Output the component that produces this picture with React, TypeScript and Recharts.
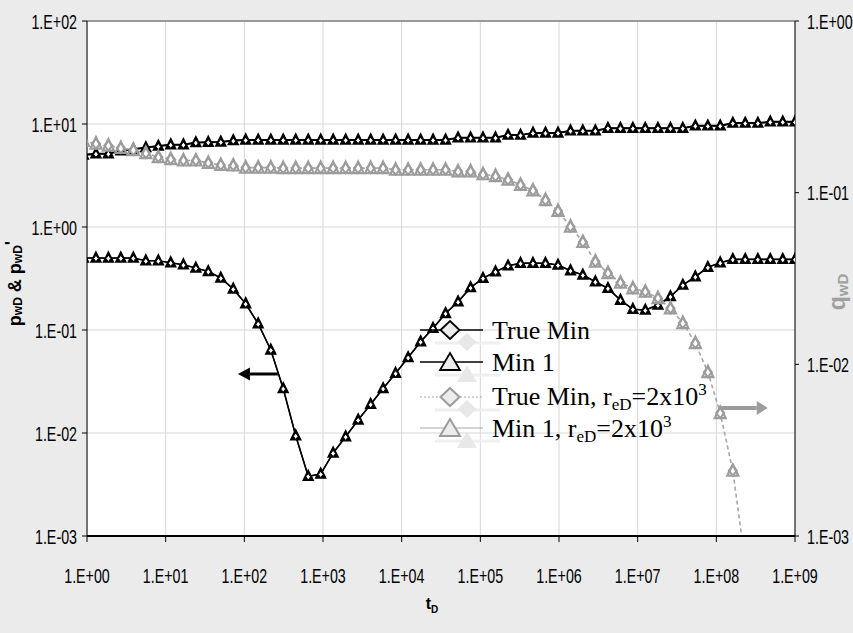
import React from 'react';
import { LineChart, Line, XAxis, YAxis, CartesianGrid, Legend, ReferenceLine } from 'recharts';

// dimensionless time (x axis, log)
const tD = [
  0.9, 1.3, 1.87, 2.69, 3.88, 5.6, 8.07, 11.6, 16.8, 24.2, 34.8, 50.2, 72.3, 104, 150, 217, 312, 450, 649,
  935, 1346, 1941, 2799, 4036, 5808, 8375, 12078, 17418, 25061, 36141, 52119, 75162, 108143, 155955,
  224905, 324340, 466659, 672977, 970510, 1.4e6, 2.01e6, 2.9e6, 4.19e6, 6.04e6, 8.69e6, 1.25e7, 1.81e7,
  2.61e7, 3.75e7, 5.41e7, 7.8e7, 1.12e8, 1.62e8, 2.33e8, 3.37e8, 4.85e8, 6.99e8, 1e9,
];

// pwD (left axis) - True Min and Min 1 lie on top of each other
const pwdTrueMin = [
  5.0, 5.15, 5.15, 5.5, 5.7, 5.9, 6.1, 6.3, 6.3, 6.6, 6.65, 6.7, 6.9,
  7.0, 7.0, 7.0, 7.0, 7.0, 7.0, 7.0, 7.0, 7.0, 7.0, 7.0, 7.0, 7.0, 7.0, 7.0, 7.0, 7.0,
  7.35, 7.35, 7.35, 7.35, 7.8, 7.8, 8.2, 8.2, 8.2, 8.6, 8.6, 8.6,
  9.1, 9.1, 9.1, 9.1, 9.1, 9.1, 9.1, 9.6, 9.6, 9.6, 10.2, 10.2, 10.2, 10.5, 10.5, 10.5,
];
const pwdMin1 = pwdTrueMin;

// pwD' (left axis)
const dpwdTrueMin = [
  0.5, 0.5, 0.5, 0.5, 0.5, 0.47, 0.47, 0.45, 0.43, 0.4, 0.37, 0.32, 0.25, 0.18, 0.115, 0.064, 0.027,
  0.0094, 0.0038, 0.004, 0.0064, 0.0092, 0.0134, 0.019, 0.027, 0.038, 0.054, 0.077, 0.104, 0.145,
  0.188, 0.258, 0.318, 0.368, 0.42, 0.445, 0.445, 0.445, 0.427, 0.377, 0.342, 0.294, 0.254, 0.195,
  0.159, 0.156, 0.175, 0.211, 0.273, 0.329, 0.406, 0.45, 0.485, 0.485, 0.485, 0.485, 0.485, 0.485,
];
const dpwdMin1 = dpwdTrueMin;

// qwD for reD = 2x10^3 (right axis)
const qwdTrueMin = [
  0.2, 0.193, 0.188, 0.182, 0.177, 0.17, 0.161, 0.157, 0.154, 0.154, 0.149, 0.145, 0.144, 0.14, 0.14, 0.14,
  0.139, 0.139, 0.139, 0.139, 0.139, 0.139, 0.139, 0.139, 0.139,
  0.136, 0.136, 0.136, 0.136, 0.136,
  0.133, 0.133, 0.128, 0.125, 0.119, 0.111, 0.103, 0.0906, 0.0782, 0.0634, 0.0516, 0.0397, 0.034,
  0.0299, 0.0277, 0.0265, 0.0243, 0.0212, 0.0174, 0.0133, 0.009, 0.0052, 0.0024, 0.0007,
  null, null, null, null,
];
const qwdMin1 = qwdTrueMin;

const xTicks = [1, 10, 100, 1e3, 1e4, 1e5, 1e6, 1e7, 1e8, 1e9];
const leftTicks = [1e-3, 1e-2, 1e-1, 1, 10, 100];
const rightTicks = [1e-3, 1e-2, 1e-1, 1];

// annotation arrows
const leftArrow = { y: 0.0374, from: 267, to: 83 };
const rightArrow = { y: 0.00557, from: 1.1e8, to: 4.5e8 };

const data = tD.map((t, i) => ({
  t,
  pTrue: pwdTrueMin[i],
  pMin1: pwdMin1[i],
  dTrue: dpwdTrueMin[i],
  dMin1: dpwdMin1[i],
  qTrue: qwdTrueMin[i],
  qMin1: qwdMin1[i],
}));

const GRAY = '#9c9c9c';
const SANS = 'Liberation Sans, Arial, sans-serif';
const SERIF = 'Liberation Serif, Times New Roman, serif';

const fmt = (v: number) => {
  const e = Math.round(Math.log10(v));
  const s = e < 0 ? '-' : '+';
  return `1.E${s}${String(Math.abs(e)).padStart(2, '0')}`;
};

const XTick = ({ x, y, payload }: any) => (
  <text transform={`translate(${x},${y + 39}) scale(0.68,1)`} textAnchor="middle" fontFamily={SANS} fontSize={21} fill="#000">
    {fmt(payload.value)}
  </text>
);
const LeftTick = ({ x, y, payload }: any) => (
  <text transform={`translate(${x - 3},${y + 7.5}) scale(0.68,1)`} textAnchor="end" fontFamily={SANS} fontSize={21} fill="#000">
    {fmt(payload.value)}
  </text>
);
const RightTick = ({ x, y, payload }: any) => (
  <text transform={`translate(${x + 6},${y + 7.5}) scale(0.68,1)`} textAnchor="start" fontFamily={SANS} fontSize={21} fill="#000">
    {fmt(payload.value)}
  </text>
);

const diamond = (cx: number, cy: number, w: number, h: number) =>
  `M${cx},${cy - h}L${cx + w},${cy}L${cx},${cy + h}L${cx - w},${cy}Z`;
const triangle = (cx: number, cy: number, w: number, up: number, down: number) =>
  `M${cx},${cy - up}L${cx + w},${cy + down}L${cx - w},${cy + down}Z`;

const BlackDiamond = (p: any) =>
  p.cx == null || p.cy == null ? <g key={p.index} /> : (
    <path key={p.index} d={diamond(p.cx, p.cy + 0.5, 2.4, 3.2)} fill="#fff" stroke="#000" strokeWidth={1} />
  );
const BlackTriangle = (p: any) =>
  p.cx == null || p.cy == null ? <g key={p.index} /> : (
    <path key={p.index} d={triangle(p.cx, p.cy, 5, 6, 4)} fill="#000" stroke="#000" strokeWidth={1.5} />
  );
const GrayDiamond = (p: any) =>
  p.cx == null || p.cy == null ? <g key={p.index} /> : (
    <path key={p.index} d={diamond(p.cx, p.cy, 4, 5)} fill="#fff" stroke={GRAY} strokeWidth={2} />
  );
const GrayTriangle = (p: any) =>
  p.cx == null || p.cy == null ? <g key={p.index} /> : (
    <path key={p.index} d={triangle(p.cx, p.cy, 5.5, 6.5, 5)} fill="none" stroke={GRAY} strokeWidth={2.2} />
  );

const arrowShape = (color: string, width: number, headLen: number, headHalf: number) => (props: any) => {
  const { x1, y1, x2, y2 } = props;
  const dir = Math.sign(x2 - x1);
  const bx = x2 - dir * headLen;
  return (
    <g>
      <line x1={x1} y1={y1} x2={bx} y2={y2} stroke={color} strokeWidth={width} />
      <polygon points={`${x2},${y2} ${bx},${y2 - headHalf} ${bx},${y2 + headHalf}`} fill={color} />
    </g>
  );
};

const legendRows = [
  { label: 'True Min', gray: false, shape: 'diamond', cy: 20, base: 29 },
  { label: 'Min 1', gray: false, shape: 'triangle', cy: 52, base: 61 },
  { label: 'True Min, ', gray: true, shape: 'diamond', cy: 87, base: 95 },
  { label: 'Min 1, ', gray: true, shape: 'triangle', cy: 118, base: 127 },
];

const LegendBox = () => (
  <svg width={340} height={150} style={{ display: 'block' }}>
    {legendRows.map((r, i) => (
      <g key={`ghost-${i}`}>
        <line x1={25} x2={90} y1={r.cy + 13} y2={r.cy + 13} stroke="#efefef" strokeWidth={3} />
        <path
          d={r.shape === 'diamond' ? diamond(57, r.cy + 12, 9.5, 9) : triangle(57, r.cy + 13, 10, 10, 7)}
          fill="#e8e8e8"
        />
      </g>
    ))}
    {legendRows.map((r, i) => {
      const col = r.gray ? GRAY : '#000';
      return (
        <g key={i}>
          <line
            x1={10}
            x2={73}
            y1={r.cy}
            y2={r.cy}
            stroke={r.gray ? '#a8a8a8' : '#000'}
            strokeWidth={r.gray ? 1.2 : 1.5}
            strokeDasharray={r.gray && r.shape === 'diamond' ? '2 2' : undefined}
          />
          <path
            d={r.shape === 'diamond' ? diamond(40, r.cy, 9.5, 9) : triangle(40, r.cy + 1, 10, 10, 7)}
            fill="#ececec"
            stroke={col}
            strokeWidth={r.gray ? 2 : 1.8}
          />
          <text x={82} y={r.base} fontFamily={SERIF} fontSize={26} fill="#000">
            {r.label}
            {r.gray && (
              <>
                r<tspan fontSize={17} dy={5}>eD</tspan>
                <tspan dy={-5}>=2x10</tspan>
                <tspan fontSize={17} dy={-10}>3</tspan>
              </>
            )}
          </text>
        </g>
      );
    })}
  </svg>
);

const LeftLabel = ({ viewBox }: any) => {
  const cx = viewBox.x + 15;
  const cy = viewBox.y + viewBox.height / 2 + 5;
  return (
    <text transform={`translate(${cx},${cy}) rotate(-90)`} textAnchor="middle" dominantBaseline="central"
      fontFamily={SANS} fontWeight="bold" fontSize={18} fill="#000">
      p<tspan fontSize={12} dy={3}>wD</tspan>
      <tspan dy={-3}>{' & p'}</tspan>
      <tspan fontSize={12} dy={3}>wD</tspan>
      <tspan dy={-6}>'</tspan>
    </text>
  );
};

const RightLabel = ({ viewBox }: any) => {
  const cx = viewBox.x + 42;
  const cy = viewBox.y + 271;
  return (
    <text transform={`translate(${cx},${cy}) rotate(-90)`} textAnchor="middle" dominantBaseline="central"
      fontFamily={SANS} fontWeight="bold" fontSize={23} fill="#a0a0a0">
      q<tspan fontSize={15} dy={5}>wD</tspan>
    </text>
  );
};

const XLabel = ({ viewBox }: any) => (
  <text x={viewBox.x + 345} y={viewBox.y + 73} textAnchor="middle" fontFamily={SANS} fontWeight="bold" fontSize={16} fill="#000">
    t<tspan fontSize={10} dy={4}>D</tspan>
  </text>
);

export default function App() {
  return (
    <div style={{ position: 'absolute', left: 0, top: 0, width: 853, height: 633, background: '#ebebeb' }}>
      <LineChart width={853} height={633} data={data} margin={{ top: 21, right: 0, bottom: 0, left: 0 }}>
        <CartesianGrid yAxisId="p" stroke="#d6d6d6" fill="#fff" fillOpacity={1} />
        <XAxis
          dataKey="t"
          type="number"
          scale="log"
          domain={[1, 1e9]}
          ticks={xTicks}
          interval={0}
          allowDataOverflow
          height={97}
          tick={<XTick />}
          tickSize={6}
          axisLine={{ stroke: '#000', strokeWidth: 2 }}
          tickLine={{ stroke: '#000' }}
          label={<XLabel />}
        />
        <YAxis
          yAxisId="p"
          type="number"
          scale="log"
          domain={[1e-3, 100]}
          ticks={leftTicks}
          interval={0}
          allowDataOverflow
          width={87}
          tick={<LeftTick />}
          tickSize={5}
          axisLine={{ stroke: '#000' }}
          tickLine={{ stroke: '#000' }}
          label={<LeftLabel />}
        />
        <YAxis
          yAxisId="q"
          orientation="right"
          type="number"
          scale="log"
          domain={[1e-3, 1]}
          ticks={rightTicks}
          interval={0}
          allowDataOverflow
          width={58}
          tick={<RightTick />}
          tickSize={4}
          axisLine={{ stroke: '#000' }}
          tickLine={{ stroke: '#000' }}
          label={<RightLabel />}
        />
        <ReferenceLine yAxisId="p" y={100} stroke="#808080" strokeWidth={1.5} ifOverflow="visible" />

        <Line yAxisId="p" dataKey="pMin1" stroke="#000" strokeWidth={1.2} dot={BlackTriangle} isAnimationActive={false} legendType="none" />
        <Line yAxisId="p" dataKey="dMin1" stroke="#000" strokeWidth={1.2} dot={BlackTriangle} isAnimationActive={false} legendType="none" />
        <Line yAxisId="p" dataKey="pTrue" stroke="#000" strokeWidth={2} dot={BlackDiamond} isAnimationActive={false} legendType="none" />
        <Line yAxisId="p" dataKey="dTrue" stroke="#000" strokeWidth={1.6} dot={BlackDiamond} isAnimationActive={false} legendType="none" />
        <Line yAxisId="q" dataKey="qTrue" stroke="#a6a6a6" strokeWidth={1.6} strokeDasharray="4 3" dot={GrayDiamond} isAnimationActive={false} legendType="none" />
        <Line yAxisId="q" dataKey="qMin1" stroke="none" dot={GrayTriangle} isAnimationActive={false} legendType="none" />

        <ReferenceLine
          yAxisId="p"
          segment={[{ x: leftArrow.from, y: leftArrow.y }, { x: leftArrow.to, y: leftArrow.y }]}
          ifOverflow="visible"
          shape={arrowShape('#000', 3, 12, 6.5)}
        />
        <ReferenceLine
          yAxisId="q"
          segment={[{ x: rightArrow.from, y: rightArrow.y }, { x: rightArrow.to, y: rightArrow.y }]}
          ifOverflow="visible"
          shape={arrowShape(GRAY, 4, 11, 7)}
        />
        <Legend
          layout="vertical"
          align="center"
          verticalAlign="middle"
          content={<LegendBox />}
          wrapperStyle={{ position: 'absolute', left: 410, top: 310, width: 340, height: 150, margin: 0 }}
        />
      </LineChart>
    </div>
  );
}
